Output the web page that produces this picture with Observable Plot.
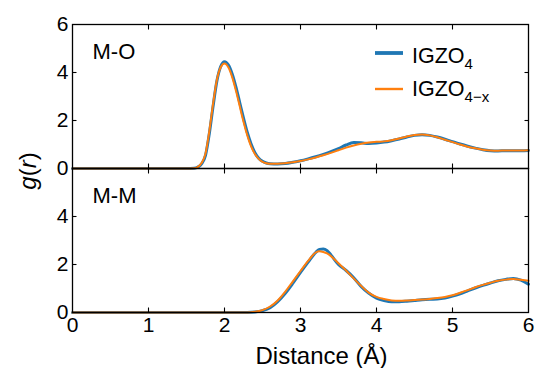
<!DOCTYPE html>
<html>
<head>
<meta charset="utf-8">
<script src="https://cdn.jsdelivr.net/npm/d3@7"></script>
<script src="https://cdn.jsdelivr.net/npm/@observablehq/plot@0.6"></script>
<style>
  html, body { margin: 0; padding: 0; background: white; }
  svg text { font-family: "Liberation Sans", Arial, Helvetica, sans-serif; }
</style>
</head>
<body>
<div id="chart"></div>
<script>
// ---- data ----
const panels = ["M-O", "M-M"];
const seriesNames = ["IGZO4", "IGZO4-x"];
const seriesColors = ["#1f77b4", "#ff7f0e"];
const xTicks = [0, 1, 2, 3, 4, 5, 6];
const yTicksTop = [0, 2, 4, 6];
const yTicksBottom = [0, 2, 4];

// M-O partial g(r)
const rMO = [0, 0.5, 1.0, 1.5, 1.6, 1.65, 1.7, 1.75, 1.8, 1.85, 1.9, 1.95, 2.0, 2.05, 2.1, 2.15, 2.2, 2.25, 2.3, 2.35, 2.4, 2.45, 2.5, 2.55, 2.6, 2.7, 2.8, 2.9, 3.0, 3.1, 3.2, 3.3, 3.4, 3.5, 3.6, 3.7, 3.8, 3.9, 4.0, 4.1, 4.2, 4.3, 4.4, 4.5, 4.6, 4.7, 4.8, 4.9, 5.0, 5.1, 5.2, 5.3, 5.4, 5.5, 5.6, 5.7, 5.8, 5.9, 6.0];
const moIGZO4 = [0, 0, 0, 0, 0.01, 0.06, 0.2, 0.55, 1.45, 2.6, 3.65, 4.25, 4.45, 4.32, 3.95, 3.4, 2.75, 2.1, 1.5, 1.02, 0.66, 0.43, 0.3, 0.23, 0.2, 0.19, 0.21, 0.26, 0.32, 0.4, 0.49, 0.59, 0.7, 0.83, 0.98, 1.08, 1.07, 1.04, 1.06, 1.1, 1.16, 1.23, 1.31, 1.38, 1.41, 1.38, 1.31, 1.22, 1.12, 1.02, 0.93, 0.85, 0.78, 0.74, 0.73, 0.74, 0.74, 0.74, 0.75];
const moIGZO4x = [0, 0, 0, 0, 0.01, 0.07, 0.24, 0.62, 1.55, 2.7, 3.7, 4.22, 4.38, 4.22, 3.82, 3.25, 2.6, 1.95, 1.38, 0.92, 0.6, 0.4, 0.28, 0.22, 0.2, 0.2, 0.22, 0.26, 0.31, 0.38, 0.46, 0.55, 0.65, 0.76, 0.87, 0.96, 1.03, 1.08, 1.11, 1.13, 1.18, 1.25, 1.33, 1.4, 1.42, 1.38, 1.3, 1.2, 1.1, 1.0, 0.91, 0.84, 0.78, 0.75, 0.74, 0.75, 0.75, 0.75, 0.76];

// M-M partial g(r)
const rMM = [0, 0.5, 1.0, 1.5, 2.0, 2.3, 2.4, 2.5, 2.6, 2.7, 2.8, 2.9, 3.0, 3.1, 3.2, 3.25, 3.3, 3.35, 3.4, 3.5, 3.6, 3.7, 3.8, 3.9, 4.0, 4.1, 4.2, 4.3, 4.4, 4.5, 4.6, 4.7, 4.8, 4.9, 5.0, 5.1, 5.2, 5.3, 5.4, 5.5, 5.6, 5.7, 5.8, 5.9, 6.0];
const mmIGZO4 = [0, 0, 0, 0, 0, 0, 0.02, 0.08, 0.2, 0.45, 0.8, 1.22, 1.67, 2.1, 2.5, 2.63, 2.65, 2.58, 2.4, 2.0, 1.75, 1.45, 1.08, 0.8, 0.6, 0.5, 0.45, 0.45, 0.47, 0.5, 0.53, 0.55, 0.56, 0.6, 0.68, 0.78, 0.9, 1.02, 1.13, 1.23, 1.32, 1.38, 1.42, 1.35, 1.18];
const mmIGZO4x = [0, 0, 0, 0, 0, 0, 0.03, 0.1, 0.25, 0.5, 0.87, 1.3, 1.73, 2.15, 2.5, 2.55, 2.52, 2.46, 2.35, 2.05, 1.75, 1.42, 1.1, 0.82, 0.65, 0.56, 0.5, 0.49, 0.5, 0.52, 0.54, 0.56, 0.6, 0.65, 0.72, 0.82, 0.93, 1.05, 1.15, 1.24, 1.32, 1.37, 1.4, 1.36, 1.32];

// ---- tidy rows built from the arrays ----
const rows = [];
function addSeries(panel, series, rs, gs) {
  rs.forEach((r, i) => rows.push({panel, series, r, g: gs[i]}));
}
addSeries("M-O", seriesNames[0], rMO, moIGZO4);
addSeries("M-O", seriesNames[1], rMO, moIGZO4x);
addSeries("M-M", seriesNames[0], rMM, mmIGZO4);
addSeries("M-M", seriesNames[1], rMM, mmIGZO4x);

const yTickRows = [
  ...yTicksTop.map(v => ({panel: "M-O", v})),
  ...yTicksBottom.map(v => ({panel: "M-M", v}))
];

const font = "'Liberation Sans', Arial, Helvetica, sans-serif";
const tick = -4.5;

const chart = Plot.plot({
  width: 537,
  height: 368,
  marginLeft: 72,
  marginRight: 9,
  marginTop: 24,
  marginBottom: 56,
  style: {fontFamily: font, fontSize: "21px", background: "white", color: "black", overflow: "visible"},
  x: {domain: [0, 6], label: null},
  y: {domain: [0, 6], label: null},
  fy: {domain: panels, padding: 0, axis: null, label: null},
  color: {domain: seriesNames, range: seriesColors},
  marks: [
    Plot.line(rows.filter(d => d.series === seriesNames[0]), {
      x: "r", y: "g", fy: "panel", stroke: "series", strokeWidth: 3, curve: "monotone-x"
    }),
    Plot.line(rows.filter(d => d.series === seriesNames[1]), {
      x: "r", y: "g", fy: "panel", stroke: "series", strokeWidth: 2, curve: "monotone-x"
    }),
    Plot.frame({stroke: "black", strokeWidth: 1.3}),
    // inward tick marks on all four sides of each panel
    Plot.axisY({anchor: "left", ticks: [2, 4], tickSize: tick, tickFormat: () => "", label: null, stroke: "black", strokeWidth: 1.1}),
    Plot.axisY({anchor: "right", ticks: [2, 4], tickSize: tick, tickFormat: () => "", label: null, stroke: "black", strokeWidth: 1.1}),
    Plot.axisX({anchor: "bottom", ticks: [1, 2, 3, 4, 5], tickSize: tick, tickFormat: () => "", label: null, facetAnchor: null, stroke: "black", strokeWidth: 1.1}),
    Plot.axisX({anchor: "top", ticks: [1, 2, 3, 4, 5], tickSize: tick, tickFormat: () => "", label: null, facetAnchor: null, stroke: "black", strokeWidth: 1.1}),
    // y tick labels
    Plot.text(yTickRows, {
      fy: "panel", y: "v", text: d => String(d.v), frameAnchor: "left",
      textAnchor: "end", lineAnchor: "middle", dx: -4, fontSize: 21, fill: "black"
    }),
    // x tick labels (bottom panel only)
    Plot.text(xTicks, {
      x: d => d, fy: () => "M-M", text: d => String(d), frameAnchor: "bottom",
      lineAnchor: "top", dy: 5, fontSize: 21, fill: "black"
    }),
    // panel labels
    Plot.text(panels, {
      fy: d => d, text: d => d, frameAnchor: "top-left", textAnchor: "start",
      lineAnchor: "bottom", dx: 20, dy: 34, fontSize: 22, fill: "black"
    }),
    // x axis title
    Plot.text(["Distance (Å)"], {
      fy: () => "M-M", text: d => d, frameAnchor: "bottom", lineAnchor: "bottom",
      dx: 21, dy: 51, fontSize: 24, fill: "black"
    })
  ]
});

document.getElementById("chart").appendChild(chart);

// ---- y-axis title with italic g and r ----
const svg = d3.select(chart);
const yl = svg.append("text")
  .attr("transform", "translate(36,171) rotate(-90)")
  .attr("text-anchor", "middle")
  .attr("font-size", 24)
  .attr("font-family", font)
  .attr("fill", "black");
yl.append("tspan").attr("font-style", "italic").text("g");
yl.append("tspan").text("(");
yl.append("tspan").attr("font-style", "italic").text("r");
yl.append("tspan").text(")");

// ---- legend ----
const legend = svg.append("g").attr("font-family", font).attr("fill", "black").attr("text-anchor", "start");
const legendItems = [
  {name: seriesNames[0], base: "IGZO", sub: "4", color: seriesColors[0], width: 3.8, ly: 53, ty: 63},
  {name: seriesNames[1], base: "IGZO", sub: "4\u2212x", color: seriesColors[1], width: 2.4, ly: 89, ty: 96}
];
legendItems.forEach(it => {
  legend.append("line")
    .attr("x1", 375).attr("x2", 403)
    .attr("y1", it.ly).attr("y2", it.ly)
    .attr("stroke", it.color).attr("stroke-width", it.width);
  const t = legend.append("text").attr("x", 412).attr("y", it.ty).attr("font-size", 21.5).attr("text-anchor", "start");
  t.append("tspan").text(it.base);
  t.append("tspan").attr("font-size", 15).attr("dy", 6).text(it.sub);
});
</script>
</body>
</html>
